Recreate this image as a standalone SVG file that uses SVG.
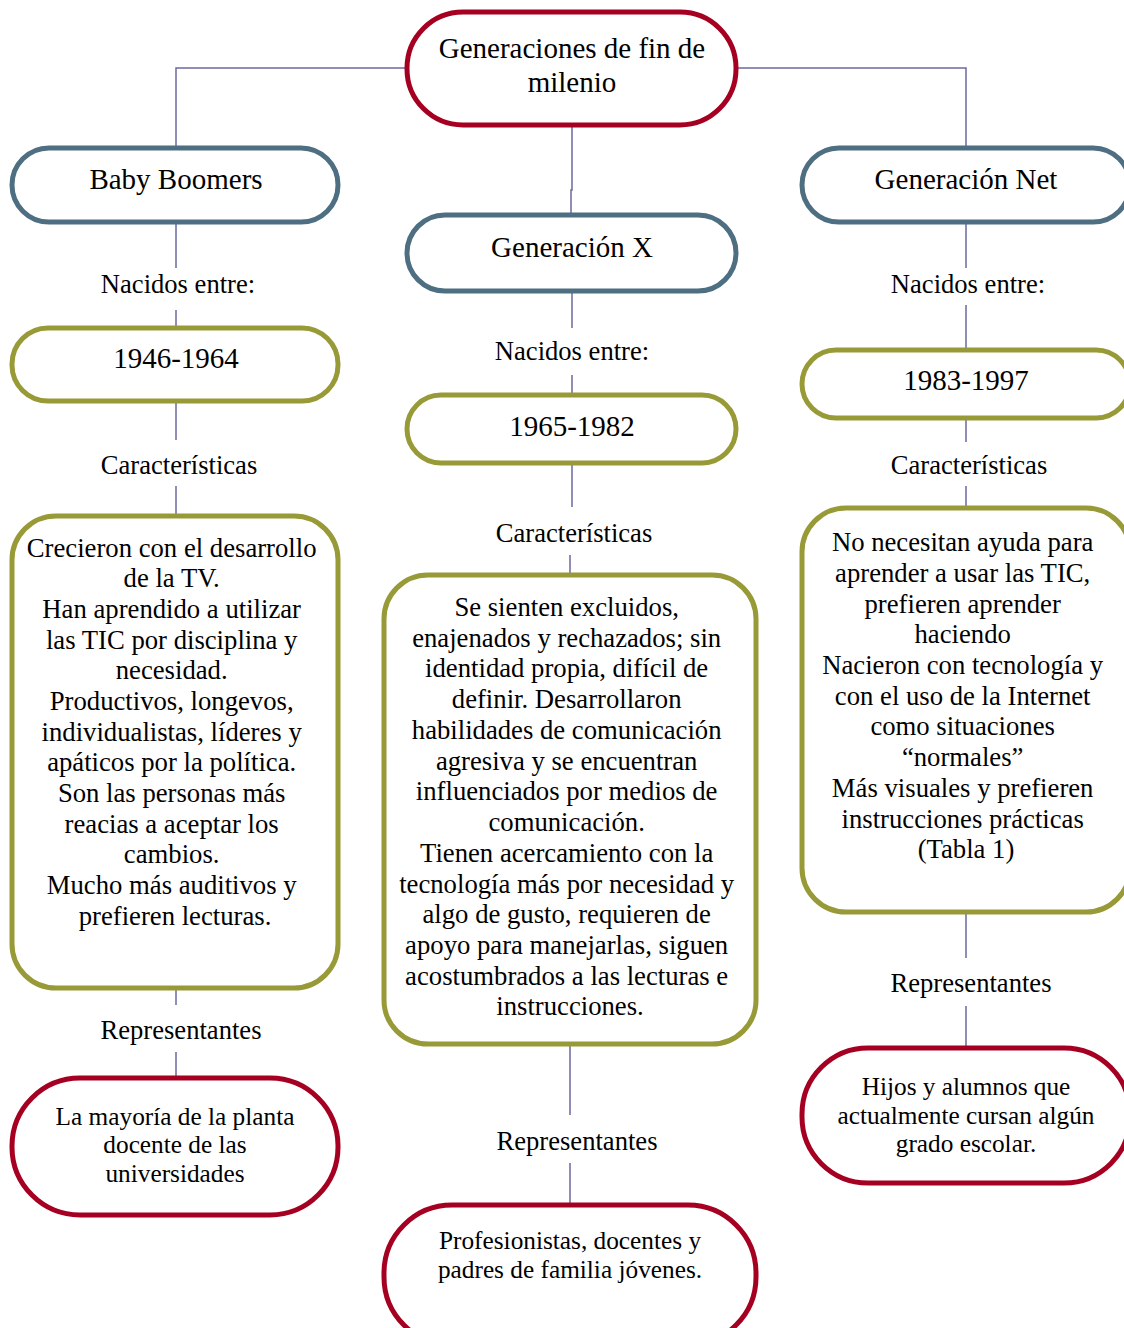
<svg xmlns="http://www.w3.org/2000/svg" width="1124" height="1328" viewBox="0 0 1124 1328" font-family="'Liberation Serif', 'Times New Roman', serif">
<style>
text{font-family:'Liberation Serif', 'Times New Roman', serif;fill:#000;text-anchor:middle}
.h{font-size:29px}
.t{font-size:26.7px}
.s{font-size:26.6px}
.r{font-size:25.3px}
.red{fill:#fff;stroke:#A50021;stroke-width:5}
.blue{fill:#fff;stroke:#4E6E81;stroke-width:5}
.olive{fill:#fff;stroke:#989A38;stroke-width:5}
.c{fill:none;stroke:#6A6A9E;stroke-width:1.5}
</style>
<rect width="1124" height="1328" fill="#fff"/>
<g id="connectors">
<path class="c" d="M407 68H176V148M736 68H966V148M572 125V190H571V215"/>
<path class="c" d="M176 222V268M176 310V328M176 401V440M176 486V516M176 988V1005M176 1052V1078"/>
<path class="c" d="M572 291V328M572 375V395M572 463V507M570 555V575M570 1044V1115M570 1163V1205"/>
<path class="c" d="M966 222V268M966 305V350M966 418V442M966 486V508M966 912V958M966 1006V1048"/>
</g>
<g id="root"><rect class="red" x="407" y="12" width="329" height="113" rx="56"/>
<text class="h" x="572" y="58">Generaciones de fin de</text><text class="h" x="572" y="92">milenio</text></g>
<g id="baby"><rect class="blue" x="12" y="148" width="326" height="74" rx="37"/><text class="h" x="176" y="189">Baby Boomers</text></g>
<g id="genx"><rect class="blue" x="407" y="215" width="329" height="76" rx="38"/><text class="h" x="572" y="257">Generación X</text></g>
<g id="gennet"><rect class="blue" x="802" y="148" width="328" height="74" rx="37"/><text class="h" x="966" y="189">Generación Net</text></g>
<g id="lbl-nac"><text class="s" x="178" y="293">Nacidos entre:</text><text class="s" x="572" y="360">Nacidos entre:</text><text class="s" x="968" y="293">Nacidos entre:</text></g>
<g id="y1"><rect class="olive" x="12" y="328" width="326" height="73" rx="36"/><text class="h" x="176" y="368">1946-1964</text></g>
<g id="y2"><rect class="olive" x="407" y="395" width="329" height="68" rx="34"/><text class="h" x="572" y="436">1965-1982</text></g>
<g id="y3"><rect class="olive" x="802" y="350" width="328" height="68" rx="34"/><text class="h" x="966" y="390">1983-1997</text></g>
<g id="lbl-car"><text class="s" x="179" y="474">Características</text><text class="s" x="574" y="542">Características</text><text class="s" x="969" y="474">Características</text></g>
<g id="c1"><rect class="olive" x="12" y="516" width="326" height="472" rx="44"/>
<text class="t" x="175">
<tspan x="175" y="557">Crecieron con el desarrollo</tspan>
<tspan x="175" y="587">de la TV.</tspan>
<tspan x="175" y="618">Han aprendido a utilizar</tspan>
<tspan x="175" y="649">las TIC por disciplina y</tspan>
<tspan x="175" y="679">necesidad.</tspan>
<tspan x="175" y="710">Productivos, longevos,</tspan>
<tspan x="175" y="741">individualistas, líderes y</tspan>
<tspan x="175" y="771">apáticos por la política.</tspan>
<tspan x="175" y="802">Son las personas más</tspan>
<tspan x="175" y="833">reacias a aceptar los</tspan>
<tspan x="175" y="863">cambios.</tspan>
<tspan x="175" y="894">Mucho más auditivos y</tspan>
<tspan x="175" y="925">prefieren lecturas.</tspan>
</text></g>
<g id="c2"><rect class="olive" x="384" y="575" width="372" height="469" rx="44"/>
<text class="t" x="570">
<tspan x="570" y="616">Se sienten excluidos,</tspan>
<tspan x="570" y="647">enajenados y rechazados; sin</tspan>
<tspan x="570" y="677">identidad propia, difícil de</tspan>
<tspan x="570" y="708">definir. Desarrollaron</tspan>
<tspan x="570" y="739">habilidades de comunicación</tspan>
<tspan x="570" y="770">agresiva y se encuentran</tspan>
<tspan x="570" y="800">influenciados por medios de</tspan>
<tspan x="570" y="831">comunicación.</tspan>
<tspan x="570" y="862">Tienen acercamiento con la</tspan>
<tspan x="570" y="893">tecnología más por necesidad y</tspan>
<tspan x="570" y="923">algo de gusto, requieren de</tspan>
<tspan x="570" y="954">apoyo para manejarlas, siguen</tspan>
<tspan x="570" y="985">acostumbrados a las lecturas e</tspan>
<tspan x="570" y="1015">instrucciones.</tspan>
</text></g>
<g id="c3"><rect class="olive" x="802" y="508" width="328" height="404" rx="44"/>
<text class="t" x="966">
<tspan x="966" y="551">No necesitan ayuda para</tspan>
<tspan x="966" y="582">aprender a usar las TIC,</tspan>
<tspan x="966" y="613">prefieren aprender</tspan>
<tspan x="966" y="643">haciendo</tspan>
<tspan x="966" y="674">Nacieron con tecnología y</tspan>
<tspan x="966" y="705">con el uso de la Internet</tspan>
<tspan x="966" y="735">como situaciones</tspan>
<tspan x="966" y="766">“normales”</tspan>
<tspan x="966" y="797">Más visuales y prefieren</tspan>
<tspan x="966" y="828">instrucciones prácticas</tspan>
<tspan x="966" y="858">(Tabla 1)</tspan>
</text></g>
<g id="lbl-rep"><text class="s" x="181" y="1039">Representantes</text><text class="s" x="577" y="1150">Representantes</text><text class="s" x="971" y="992">Representantes</text></g>
<g id="r1"><rect class="red" x="12" y="1078" width="326" height="137" rx="68"/>
<text class="r"><tspan x="175" y="1125">La mayoría de la planta</tspan><tspan x="175" y="1153">docente de las</tspan><tspan x="175" y="1182">universidades</tspan></text></g>
<g id="r2"><rect class="red" x="384" y="1205" width="372" height="140" rx="68"/>
<text class="r"><tspan x="570" y="1249">Profesionistas, docentes y</tspan><tspan x="570" y="1278">padres de familia jóvenes.</tspan></text></g>
<g id="r3"><rect class="red" x="802" y="1048" width="328" height="135" rx="66"/>
<text class="r"><tspan x="966" y="1095">Hijos y alumnos que</tspan><tspan x="966" y="1124">actualmente cursan algún</tspan><tspan x="966" y="1152">grado escolar.</tspan></text></g>
</svg>
